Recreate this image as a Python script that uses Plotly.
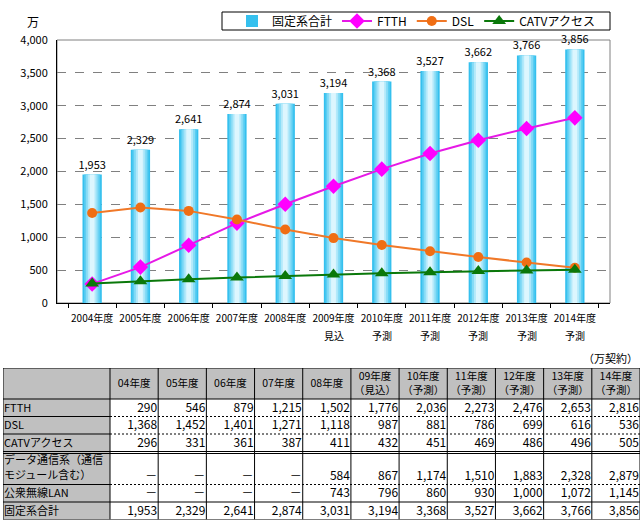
import plotly.graph_objects as go

W, H = 643, 525
FONT = "Noto Sans CJK JP"

# ---- data ----
years = ["2004年度", "2005年度", "2006年度", "2007年度", "2008年度", "2009年度",
         "2010年度", "2011年度", "2012年度", "2013年度", "2014年度"]
year_notes = ["", "", "", "", "", "見込", "予測", "予測", "予測", "予測", "予測"]
total = [1953, 2329, 2641, 2874, 3031, 3194, 3368, 3527, 3662, 3766, 3856]
ftth = [290, 546, 879, 1215, 1502, 1776, 2036, 2273, 2476, 2653, 2816]
dsl = [1368, 1452, 1401, 1271, 1118, 987, 881, 786, 699, 616, 536]
catv = [296, 331, 361, 387, 411, 432, 451, 469, 486, 496, 505]
data_comm = [None, None, None, None, 584, 867, 1174, 1510, 1883, 2328, 2879]
wlan = [None, None, None, None, 743, 796, 860, 930, 1000, 1072, 1145]

table_cols = ["04年度", "05年度", "06年度", "07年度", "08年度", "09年度<br>（見込）",
              "10年度<br>（予測）", "11年度<br>（予測）", "12年度<br>（予測）",
              "13年度<br>（予測）", "14年度<br>（予測）"]
row_labels = ["FTTH", "DSL", "CATVアクセス", "データ通信系（通信<br>モジュール含む）",
              "公衆無線LAN", "固定系合計"]

fig = go.Figure()

# gradient bars: layered overlay bars (outer darker -> inner lighter)
layers = [(0.40, "#35C0EE"), (0.33, "#5ACDF2"), (0.26, "#86DBF6"),
          (0.18, "#B3E9FA"), (0.10, "#DDF6FE")]
for i, (w, c) in enumerate(layers):
    fig.add_trace(go.Bar(
        x=years, y=total, width=w, marker=dict(color=c, line=dict(width=0)),
        name="固定系合計", showlegend=(i == 0), hoverinfo="skip" if i else None,
        text=[f"{v:,}" for v in total] if i == 0 else None,
        textposition="outside" if i == 0 else None,
        constraintext="none",
        textfont=dict(size=11, color="black", family=FONT),
        cliponaxis=False,
    ))

fig.add_trace(go.Scatter(
    x=years, y=ftth, name="FTTH", mode="lines+markers",
    line=dict(color="#E619E6", width=2),
    marker=dict(symbol="diamond", size=12, color="#FF00FF")))
fig.add_trace(go.Scatter(
    x=years, y=dsl, name="DSL", mode="lines+markers",
    line=dict(color="#F07828", width=2),
    marker=dict(symbol="circle", size=10, color="#F06E14")))
fig.add_trace(go.Scatter(
    x=years, y=catv, name="CATVアクセス", mode="lines+markers",
    line=dict(color="#0A780A", width=2),
    marker=dict(symbol="triangle-up", size=12, color="#0A780A")))

# ---- table (drawn on its own pixel-unit axes) ----
def fmt(v):
    return "－" if v is None else f"{v:,}"

rows = [ftth, dsl, catv, data_comm, wlan, total]
first_w, col_w = 107, 530 / 11
col_edges = [0, first_w] + [first_w + col_w * (i + 1) for i in range(len(years))]
row_h = [31, 17.5, 17.5, 17.5, 31, 17.5, 17.5]   # header + 6 rows
row_top, row_bot = [], []
acc = 0
for k, h in enumerate(row_h):
    if k == 4:
        acc += 2          # double line under CATV row
    row_top.append(acc)
    acc += h
    row_bot.append(acc)
T = acc
TOP = 368

shapes = []
GRAY = "#C0C0C0"
shapes.append(dict(type="rect", xref="x2", yref="y2", x0=0, x1=col_edges[-1],
                   y0=row_top[0], y1=row_bot[0], fillcolor=GRAY, line=dict(width=0), layer="below"))
shapes.append(dict(type="rect", xref="x2", yref="y2", x0=0, x1=first_w,
                   y0=row_top[0], y1=T, fillcolor=GRAY, line=dict(width=0), layer="below"))
solid = dict(color="black", width=1)
dashed = dict(color="black", width=1, dash="2px,2px")
def hline(y, xa, xb, ln):
    shapes.append(dict(type="line", xref="x2", yref="y2", x0=xa, x1=xb, y0=y, y1=y, line=ln))
hline(0, 0, col_edges[-1], solid)
hline(row_bot[0], 0, col_edges[-1], solid)
for k in (1, 2, 4):
    hline(row_bot[k], 0, first_w, solid)
    hline(row_bot[k], first_w, col_edges[-1], dashed)
hline(row_bot[3], 0, col_edges[-1], solid)
hline(row_top[4], 0, col_edges[-1], solid)
hline(row_bot[5], 0, col_edges[-1], solid)
hline(T, 0, col_edges[-1], solid)
for xe in col_edges:
    shapes.append(dict(type="line", xref="x2", yref="y2", x0=xe, x1=xe, y0=0, y1=T, line=solid))

hx, hy, ht = [], [], []
for j, c in enumerate(table_cols):
    hx.append((col_edges[j + 1] + col_edges[j + 2]) / 2)
    hy.append((row_top[0] + row_bot[0]) / 2 + 1)
    ht.append(c)
fig.add_trace(go.Scatter(x=hx, y=hy, text=ht, mode="text", xaxis="x2", yaxis="y2",
                         textposition="middle center", showlegend=False, hoverinfo="skip",
                         textfont=dict(size=10.5, color="black", family=FONT), cliponaxis=False))
lx, ly, lt = [], [], []
for i, lab in enumerate(row_labels):
    parts = lab.split("<br>")
    if len(parts) == 1:
        lx.append(1)
        ly.append((row_top[i + 1] + row_bot[i + 1]) / 2 + 1)
        lt.append(lab)
    else:
        for p_i, p in enumerate(parts):
            lx.append(1)
            ly.append(row_top[i + 1] + 8 + 15 * p_i)
            lt.append(p)
fig.add_trace(go.Scatter(x=lx, y=ly, text=lt, mode="text", xaxis="x2", yaxis="y2",
                         textposition="middle right", showlegend=False, hoverinfo="skip",
                         textfont=dict(size=11, color="black", family=FONT), cliponaxis=False))
vx, vy, vt = [], [], []
for i, r in enumerate(rows):
    for j, v in enumerate(r):
        vx.append(col_edges[j + 2] - 1)
        vy.append(row_bot[i + 1] - 8)
        vt.append(fmt(v))
fig.add_trace(go.Scatter(x=vx, y=vy, text=vt, mode="text", xaxis="x2", yaxis="y2",
                         textposition="middle left", showlegend=False, hoverinfo="skip",
                         textfont=dict(size=12, color="black", family=FONT), cliponaxis=False))

y0 = 1 - 303 / H
y1 = 1 - 40 / H
x0 = 57 / W
x1 = 610 / W

shapes.append(dict(type="rect", xref="paper", yref="paper", x0=x0, x1=x1,
                   y0=y0, y1=y1, line=dict(color="#808080", width=1), layer="below"))
# legend frame
LEG_L, LEG_R, LEG_T, LEG_B = 222, 610, 12, 30
shapes.append(dict(type="rect", xref="paper", yref="paper", x0=LEG_L / W, x1=LEG_R / W,
                   y0=1 - LEG_B / H, y1=1 - LEG_T / H, fillcolor="white",
                   line=dict(color="black", width=1), layer="below"))

annotations = [
    dict(text="万", xref="paper", yref="paper", x=33 / W, y=1 - 22 / H,
         xanchor="center", yanchor="middle", showarrow=False, font=dict(size=12)),
    dict(text="（万契約）", xref="paper", yref="paper", x=640 / W,
         y=1 - 358 / H, xanchor="right", yanchor="middle", showarrow=False,
         font=dict(size=11)),
]
for yr, note in zip(years, year_notes):
    if note:
        annotations.append(dict(text=note, xref="x", yref="paper", x=yr, y=1 - 335 / H,
                                xanchor="center", yanchor="middle", showarrow=False,
                                font=dict(size=10)))

fig.update_layout(
    width=W, height=H, margin=dict(l=0, r=0, t=0, b=0),
    paper_bgcolor="white", plot_bgcolor="white",
    barmode="overlay", font=dict(family=FONT, size=11, color="black"),
    xaxis=dict(domain=[x0, x1], type="category", tickmode="array",
               tickvals=years, ticktext=years, tickson="boundaries",
               ticks="outside", ticklen=4, tickcolor="black", tickangle=0,
               ticklabelstandoff=6,
               showline=True, linecolor="black", linewidth=1, automargin=False,
               showgrid=False, tickfont=dict(size=10)),
    yaxis=dict(domain=[y0, y1], range=[0, 4000], dtick=500, tickformat=",",
               showgrid=True, gridcolor="#808080", griddash="dash", gridwidth=1,
               showline=True, linecolor="black", linewidth=1, zeroline=False,
               ticks="", tickfont=dict(size=11), automargin=False,
               ticklabelstandoff=6),
    xaxis2=dict(domain=[3 / W, 640 / W], range=[0, col_edges[-1]], visible=False,
                fixedrange=True),
    yaxis2=dict(domain=[1 - (TOP + T) / H, 1 - TOP / H], range=[T, 0], visible=False,
                fixedrange=True),
    legend=dict(orientation="h", x=(LEG_L + LEG_R) / 2 / W, xanchor="center",
                y=1 - (LEG_T + LEG_B) / 2 / H, yanchor="middle",
                borderwidth=0, bgcolor="rgba(0,0,0,0)", font=dict(size=12),
                traceorder="normal", itemwidth=30),
    showlegend=True,
    shapes=shapes,
    annotations=annotations,
)

fig.write_html("out.html")
